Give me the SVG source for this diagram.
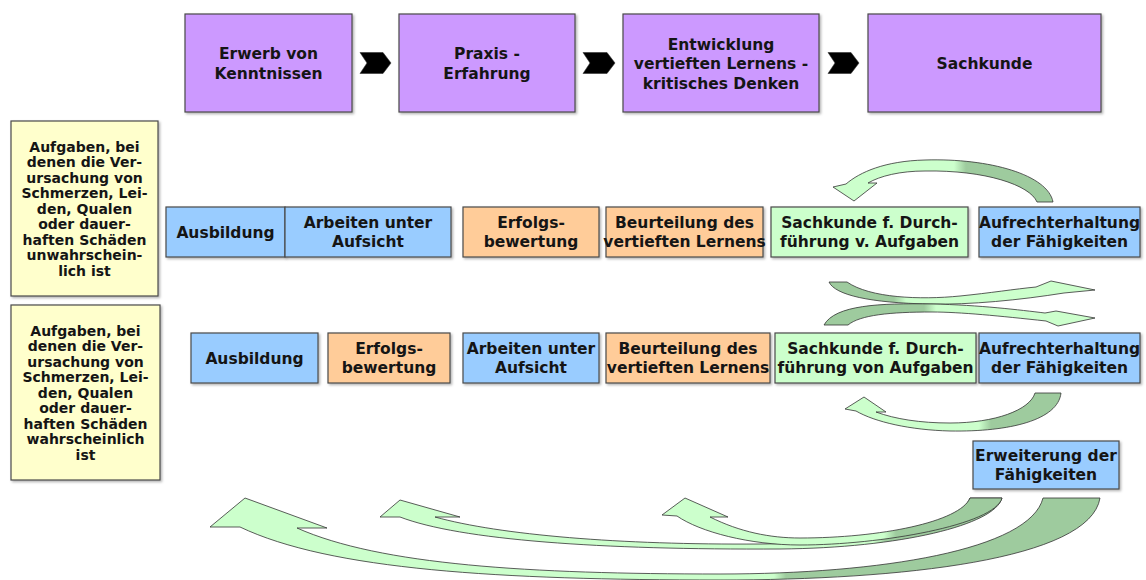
<svg xmlns="http://www.w3.org/2000/svg" width="1146" height="580" viewBox="0 0 1146 580">
<style>
.box{stroke:#4a4a4a;stroke-width:1.2;filter:url(#sh)}
.pu{fill:#cc99ff}.bl{fill:#99ccff}.or{fill:#ffcc99}.gr{fill:#ccffcc}.ye{fill:#ffffcc}
.t{font-family:"DejaVu Sans",Verdana,sans-serif;font-weight:bold;font-size:15.5px;text-anchor:middle;fill:#151515}
.ty{font-size:14px}
.chev{fill:#000;stroke:#333;stroke-width:0.6}
.arr{stroke:#333;stroke-width:0.8;stroke-linejoin:miter}
</style>
<defs>
<filter id="sh" x="-10%" y="-10%" width="120%" height="130%">
<feDropShadow dx="1.5" dy="1.5" stdDeviation="1" flood-color="#000" flood-opacity="0.3"/>
</filter>
<linearGradient id="gA" gradientUnits="userSpaceOnUse" x1="954" y1="0" x2="966" y2="0"><stop offset="0" stop-color="#ccffcc"/><stop offset="1" stop-color="#9ecb9e"/></linearGradient>
<linearGradient id="gB" gradientUnits="userSpaceOnUse" x1="894" y1="0" x2="906" y2="0"><stop offset="0" stop-color="#9ecb9e"/><stop offset="1" stop-color="#ccffcc"/></linearGradient>
<linearGradient id="gC" gradientUnits="userSpaceOnUse" x1="924" y1="0" x2="936" y2="0"><stop offset="0" stop-color="#9ecb9e"/><stop offset="1" stop-color="#ccffcc"/></linearGradient>
<linearGradient id="gD" gradientUnits="userSpaceOnUse" x1="979" y1="0" x2="991" y2="0"><stop offset="0" stop-color="#ccffcc"/><stop offset="1" stop-color="#9ecb9e"/></linearGradient>
<linearGradient id="gG" gradientUnits="userSpaceOnUse" x1="774" y1="0" x2="786" y2="0"><stop offset="0" stop-color="#ccffcc"/><stop offset="1" stop-color="#9ecb9e"/></linearGradient>
<linearGradient id="gF" gradientUnits="userSpaceOnUse" x1="874" y1="0" x2="886" y2="0"><stop offset="0" stop-color="#ccffcc"/><stop offset="1" stop-color="#9ecb9e"/></linearGradient>
<linearGradient id="gE" gradientUnits="userSpaceOnUse" x1="884" y1="0" x2="896" y2="0"><stop offset="0" stop-color="#ccffcc"/><stop offset="1" stop-color="#9ecb9e"/></linearGradient>
</defs>
<rect width="1146" height="580" fill="#ffffff"/>

<g id="connectors">
<polygon class="chev" points="360,52.5 383,52.5 391,63 383,73.5 360,73.5 367,63"/>
<polygon class="chev" points="583,52.5 607,52.5 615,63 607,73.5 583,73.5 590,63"/>
<polygon class="chev" points="828,52.5 851,52.5 859,63 851,73.5 828,73.5 835,63"/>
<path class="arr" fill="url(#gA)" d="M1037,202 L1053,202 C1048,175 990,158 925,160 C885,161 860,172 846,184 L833,187 L854,201 L877,183 L868,183 C880,176 900,171 925,171 C985,170 1030,185 1037,202 Z"/>
<path class="arr" fill="url(#gB)" d="M829,282 L847,282 C870,298 920,300 960,296 C990,293 1015,289 1036,287 L1051,281 L1095,290 L1064,293 C1020,300 970,305 930,304 C870,303 835,295 829,282 Z"/>
<path class="arr" fill="url(#gC)" d="M824,325 C835,305 880,303 932,304 C980,305 1020,310 1045,313 L1056,311 L1095,318 L1058,326 L1046,321 C1000,316 960,312 932,312 C890,312 860,315 848,325 Z"/>
<path class="arr" fill="url(#gD)" d="M1035,393 L1061,393 C1058,420 1010,432 950,431 C910,430 875,422 856,411 L845,409 L864,397 L886,412 L876,412 C895,419 920,423 950,423 C995,423 1030,410 1035,393 Z"/>
<path class="arr" fill="url(#gG)" d="M1043,498 L1100,498 C1090,560 900,580 720,580 C500,580 330,570 240,527 L210,527 L245,498 L327,528 L297,528 C380,565 530,574 720,574 C880,574 1030,550 1043,498 Z"/>
<path class="arr" fill="url(#gF)" d="M970,498 L1002,498 C995,525 900,548 780,549 C600,550 460,540 400,517 L380,517 L400,500 L460,517 L435,517 C500,535 620,545 760,544 C880,543 960,525 970,498 Z"/>
<path class="arr" fill="url(#gE)" d="M970,498 L1002,498 C995,525 880,545 800,545 C750,545 700,532 677,516 L662,515 L685,498 L728,517 L710,517 C740,532 770,538 800,538 C880,538 960,522 970,498 Z"/>
</g>

<g id="top1"><rect class="box pu" x="185" y="14" width="167" height="98"/><text class="t" x="268.5"><tspan x="268.5" y="59">Erwerb von</tspan><tspan x="268.5" y="78.5">Kenntnissen</tspan></text></g>
<g id="top2"><rect class="box pu" x="399" y="14" width="176" height="98"/><text class="t"><tspan x="487" y="59">Praxis -</tspan><tspan x="487" y="78.5">Erfahrung</tspan></text></g>
<g id="top3"><rect class="box pu" x="623" y="14" width="196" height="98"/><text class="t"><tspan x="721" y="49.5">Entwicklung</tspan><tspan x="721" y="69">vertieften Lernens -</tspan><tspan x="721" y="88.5">kritisches Denken</tspan></text></g>
<g id="top4"><rect class="box pu" x="868" y="14" width="233" height="98"/><text class="t" x="984.5" y="68.5">Sachkunde</text></g>

<g id="note1"><rect class="box ye" x="11" y="121" width="147" height="175"/><text class="t ty"><tspan x="84.5" y="151.5">Aufgaben, bei</tspan><tspan x="84.5" y="167">denen die Ver-</tspan><tspan x="84.5" y="182.5">ursachung von</tspan><tspan x="84.5" y="198">Schmerzen, Lei-</tspan><tspan x="84.5" y="213.5">den, Qualen</tspan><tspan x="84.5" y="229">oder dauer-</tspan><tspan x="84.5" y="244.5">haften Schäden</tspan><tspan x="84.5" y="260">unwahrschein-</tspan><tspan x="84.5" y="275.5">lich ist</tspan></text></g>
<g id="note2"><rect class="box ye" x="11" y="305" width="149" height="175"/><text class="t ty"><tspan x="85.5" y="335.5">Aufgaben, bei</tspan><tspan x="85.5" y="351">denen die Ver-</tspan><tspan x="85.5" y="366.5">ursachung von</tspan><tspan x="85.5" y="382">Schmerzen, Lei-</tspan><tspan x="85.5" y="397.5">den, Qualen</tspan><tspan x="85.5" y="413">oder dauer-</tspan><tspan x="85.5" y="428.5">haften Schäden</tspan><tspan x="85.5" y="444">wahrscheinlich</tspan><tspan x="85.5" y="459.5">ist</tspan></text></g>

<g id="r1_ausbildung"><rect class="box bl" x="166" y="207" width="119" height="50"/><text class="t" x="225.5" y="237.5">Ausbildung</text></g>
<g id="r1_arbeiten"><rect class="box bl" x="285" y="207" width="166" height="50"/><text class="t"><tspan x="368" y="228">Arbeiten unter</tspan><tspan x="368" y="247">Aufsicht</tspan></text></g>
<g id="r1_erfolg"><rect class="box or" x="463" y="207" width="136" height="50"/><text class="t"><tspan x="531" y="228">Erfolgs-</tspan><tspan x="531" y="247">bewertung</tspan></text></g>
<g id="r1_beurteilung"><rect class="box or" x="606" y="207" width="157" height="50"/><text class="t"><tspan x="684.5" y="228">Beurteilung des</tspan><tspan x="684.5" y="247">vertieften Lernens</tspan></text></g>
<g id="r1_sachkunde"><rect class="box gr" x="771" y="207" width="197" height="50"/><text class="t"><tspan x="869.5" y="228">Sachkunde f. Durch-</tspan><tspan x="869.5" y="247">führung v. Aufgaben</tspan></text></g>
<g id="r1_aufrecht"><rect class="box bl" x="979" y="207" width="161" height="50"/><text class="t"><tspan x="1059.5" y="228">Aufrechterhaltung</tspan><tspan x="1059.5" y="247">der Fähigkeiten</tspan></text></g>

<g id="r2_ausbildung"><rect class="box bl" x="191" y="333" width="127" height="50"/><text class="t" x="254.5" y="363.5">Ausbildung</text></g>
<g id="r2_erfolg"><rect class="box or" x="328" y="333" width="122" height="50"/><text class="t"><tspan x="389" y="354">Erfolgs-</tspan><tspan x="389" y="373">bewertung</tspan></text></g>
<g id="r2_arbeiten"><rect class="box bl" x="463" y="333" width="136" height="50"/><text class="t"><tspan x="531" y="354">Arbeiten unter</tspan><tspan x="531" y="373">Aufsicht</tspan></text></g>
<g id="r2_beurteilung"><rect class="box or" x="606" y="333" width="164" height="50"/><text class="t"><tspan x="688" y="354">Beurteilung des</tspan><tspan x="688" y="373">vertieften Lernens</tspan></text></g>
<g id="r2_sachkunde"><rect class="box gr" x="775" y="333" width="201" height="50"/><text class="t"><tspan x="875.5" y="354">Sachkunde f. Durch-</tspan><tspan x="875.5" y="373">führung von Aufgaben</tspan></text></g>
<g id="r2_aufrecht"><rect class="box bl" x="979" y="333" width="161" height="50"/><text class="t"><tspan x="1059.5" y="354">Aufrechterhaltung</tspan><tspan x="1059.5" y="373">der Fähigkeiten</tspan></text></g>

<g id="erweiterung"><rect class="box bl" x="973" y="441" width="146" height="48"/><text class="t"><tspan x="1046" y="461">Erweiterung der</tspan><tspan x="1046" y="480">Fähigkeiten</tspan></text></g>
</svg>
